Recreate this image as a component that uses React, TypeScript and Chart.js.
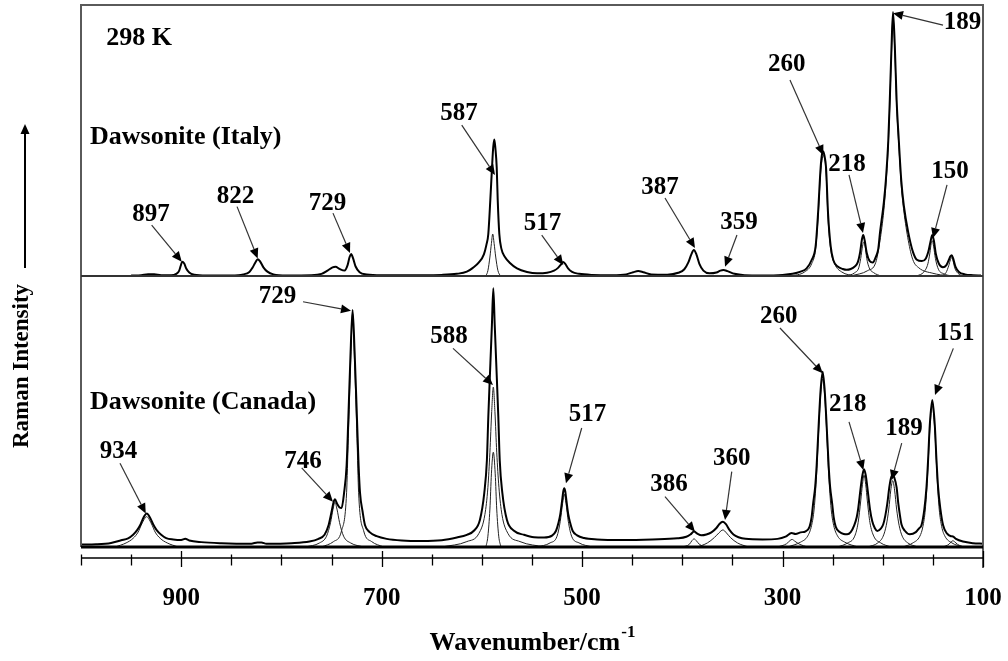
import React, { useEffect, useRef } from 'react';
import { Chart, registerables } from 'chart.js';

Chart.register(...registerables);

type Pt = [number, number];
type Note = { text: string; label: Pt; tail: Pt; tip: Pt };
type Caption = { text: string; at: Pt; align: CanvasTextAlign; size: number };

const FONT = "'Liberation Serif', 'Times New Roman', 'DejaVu Serif', serif";

// ---- axis ticks ----
const xTickValues = [1000, 950, 900, 850, 800, 750, 700, 650, 600, 550, 500, 450, 400, 350, 300, 250, 200, 150, 100];
const xTickLabels = [900, 700, 500, 300, 100];

// ---- Dawsonite (Italy), measured spectrum ----
const italySpectrum: Pt[] = [
  [950, 0.2], [940, 0.3], [933, 0.6], [927, 0.6], [920, 0.3], [910, 0.3], [905, 0.8], [902, 2], [900.5, 3.8], [899, 5.3],
  [897, 4.6], [895, 2.8], [892, 1.3], [887, 0.5], [875, 0.2], [850, 0.2], [838, 0.6], [832, 1.5], [829, 3], [826, 5],
  [823.7, 6.2], [821.5, 5.5], [818, 3.2], [814, 1.6], [808, 0.6], [795, 0.2], [770, 0.3], [760, 0.8], [754, 2], [749, 3.2],
  [746, 3.4], [742, 2.6], [737, 2.0], [734, 4], [732, 7], [730.5, 8.1], [728.5, 6.5], [726, 3.5], [722, 1.4], [715, 0.6],
  [700, 0.3], [660, 0.3], [640, 0.4], [625, 0.8], [615, 1.6], [609, 3], [603, 5], [598, 8], [595.5, 11.5], [593.6, 15.5],
  [591.6, 28], [589.9, 40], [588.7, 47.5], [587.6, 50.4], [586.5, 47], [585.2, 40], [584.2, 28], [582.6, 15.5], [580.5, 10], [577, 7],
  [572, 4.8], [565, 2.8], [555, 1.5], [545, 1.0], [535, 1.2], [528, 2], [524, 3], [521, 4.3], [519, 5.2], [517, 4.6],
  [514, 2.8], [510, 1.5], [503, 0.8], [490, 0.4], [470, 0.3], [456, 0.6], [449, 1.4], [444, 1.8], [439, 1.4], [431, 0.6],
  [415, 0.5], [404, 1.2], [398, 2.5], [394, 5], [391, 8], [388.5, 9.6], [386, 8], [383, 4.5], [379, 2], [373, 1.0],
  [366, 1.3], [362, 2], [359, 2.2], [355, 1.8], [348, 0.8], [338, 0.3], [320, 0.2], [300, 0.4], [290, 0.8], [282, 1.6],
  [276, 2.8], [271, 5.9], [267, 11], [264.6, 23], [262, 40], [260.6, 45], [259.3, 45.9], [258, 44], [256.6, 40], [254.6, 23],
  [252, 11], [249.4, 5.9], [245, 3.5], [240, 2.6], [236, 2.3], [232, 2.6], [228, 3.5], [225, 5], [222.5, 9], [220.8, 13.5],
  [219.5, 15.1], [218, 13], [216, 8.5], [213, 5.5], [210, 5], [207, 7], [204.5, 10], [202.8, 15.9], [199, 27], [197, 35],
  [194.5, 50], [193, 65], [191.5, 82], [189.8, 97.4], [188, 85], [186.2, 65], [184, 50], [181.5, 35], [179, 26], [174.5, 15.9],
  [170, 9], [166, 6], [161, 5.5], [157, 6.5], [154.5, 9], [152.5, 12.5], [150.6, 15.1], [149, 13], [147, 8], [144, 4.5],
  [140, 3.2], [136.5, 4], [134, 6], [132.5, 7.3], [131.2, 7.7], [129.8, 6.5], [127.5, 3.5], [124, 1.5], [118, 0.6], [110, 0.3],
  [102, 0.2],
];

// ---- Dawsonite (Italy), fitted component bands ----
const italyBand589: Pt[] = [[596, 0], [594, 2], [592, 7], [590.5, 12], [589.2, 15.5], [587.8, 12], [586.2, 7], [584, 2], [581.5, 0]];
const italyBand260: Pt[] = [[292, 0], [278, 1.5], [271, 4.5], [267, 10], [264.6, 21], [262, 38], [259.3, 44.5], [256.6, 38], [254.6, 21], [252, 10], [248, 4.5], [241, 1.5], [228, 0]];
const italyBand218: Pt[] = [[236, 0], [228, 1.2], [224, 3], [222, 6.5], [220.2, 11], [219, 12.5], [217.6, 11], [216, 6.5], [213.5, 3], [209, 1.2], [202, 0]];
const italyBand189: Pt[] = [[232, 0], [215, 2], [207, 5], [202.8, 13], [199, 24], [197, 33], [194.5, 48], [193, 63], [191.5, 80], [189.8, 95.5], [188, 83], [186.2, 63], [184, 48], [181.5, 33], [179, 24], [174.5, 13], [170, 6], [164, 3], [150, 1], [135, 0]];
const italyBand150: Pt[] = [[166, 0], [159, 1.5], [155, 4.5], [153, 8.5], [151.7, 12], [150.6, 13], [149.3, 11], [147.5, 6.5], [144.5, 2.5], [139, 0.8], [132, 0]];
const italyBand131: Pt[] = [[143, 0], [137, 1.2], [134.2, 3.8], [132.5, 6], [131.2, 6.8], [130, 5.8], [128.2, 3], [125, 1], [120, 0]];

// ---- Dawsonite (Canada), measured spectrum ----
const canadaSpectrum: Pt[] = [
  [1000, 0.9], [985, 1.0], [970, 1.5], [960, 2.5], [953, 3.2], [948, 4.5], [944, 6.2], [941, 8], [938.5, 10.2], [936.5, 11.6],
  [934.4, 12.4], [932.3, 11.6], [930.3, 10.2], [927.5, 8], [924.5, 6.2], [920, 4.5], [915, 3.3], [908, 2.8], [900, 2.6], [896, 3.0],
  [892, 2.4], [880, 1.8], [860, 1.4], [830, 1.2], [824, 1.7], [820, 1.7], [815, 1.2], [790, 1.4], [772, 2], [763, 3],
  [757, 4.5], [753, 8], [750, 13], [748, 16.5], [746.6, 17.6], [744.5, 16], [742, 14.6], [740, 14.4], [737.5, 20], [735, 30],
  [733.3, 47], [731, 72], [729, 87.5], [727, 72], [724.6, 47], [723, 30], [721.6, 20], [719, 13], [716.6, 8], [712, 5.5],
  [705, 4], [695, 3], [680, 2.4], [660, 2.2], [640, 2.5], [625, 3.5], [615, 4.5], [608, 6], [602, 10], [597.6, 20],
  [595, 32], [593.6, 48], [591.5, 68], [590, 82], [588.6, 95.5], [587.2, 82], [585.7, 68], [583.6, 48], [582.2, 32], [579.6, 20],
  [575, 10], [568, 6], [558, 4.5], [548, 3.6], [538, 3.5], [530, 4.2], [526, 6], [523.5, 9], [521.8, 12], [520, 17],
  [518.8, 20.5], [517.8, 21.7], [516.8, 20.5], [515.6, 17], [513.8, 12], [512, 9], [509.5, 6], [505, 4.3], [498, 3.3], [485, 2.8],
  [460, 2.6], [430, 2.8], [405, 3.2], [396, 3.8], [392, 4.6], [388.3, 5.7], [385, 4.9], [381, 4.3], [376, 4.6], [371, 5.4],
  [366, 7], [363, 8.5], [359.5, 9.3], [356.5, 8.4], [353, 6.3], [349, 4.6], [344, 3.6], [337, 3.0], [320, 2.8], [305, 3.0],
  [297, 3.8], [291, 5.2], [287, 4.8], [282, 5.4], [277, 5.8], [273, 7.5], [271, 11], [269.5, 16], [267.5, 22], [266, 30],
  [263.7, 47], [262, 58], [260, 64.7], [258, 58], [256.3, 47], [254, 30], [252.5, 22], [250.5, 16], [249, 11], [247, 7.5],
  [243, 5.5], [239, 4.8], [235.5, 4.7], [232, 5.5], [228.5, 8], [226, 11], [224.6, 14], [222, 22], [220.3, 26.5], [218.7, 28.7],
  [217, 26.5], [215.4, 22], [212.8, 14], [210.5, 9.5], [208, 7], [205.5, 5.9], [202, 6.8], [199.6, 8.3], [197.5, 11.5], [195.5, 16],
  [193.5, 22], [191.8, 25.5], [190.1, 26.6], [188.4, 25.5], [186.2, 22], [184.5, 16], [182.8, 11.5], [181.3, 8.3], [178, 6], [173, 4.7],
  [167, 5.5], [163.5, 7], [161.4, 8], [158.5, 14], [156.4, 22], [154.8, 32], [153.1, 45], [150.6, 54.2], [148.1, 45], [146.4, 32],
  [144.8, 22], [142.5, 14], [139.8, 8], [136, 5], [132, 4], [130, 3.9], [127, 3.0], [120, 2.0], [110, 1.4], [100, 1.2],
];

// ---- Dawsonite (Canada), fitted component bands ----
const canadaBand934: Pt[] = [[966, 0], [955, 1.5], [948, 3.2], [943, 5.5], [940, 8], [937, 10.2], [934.4, 11.2], [932, 10.2], [929, 8], [926, 5.5], [921, 3.2], [914, 1.5], [903, 0]];
const canadaBand746: Pt[] = [[776, 0], [762, 1.5], [755, 4], [751, 9], [748.5, 14], [746.6, 16.5], [744.6, 14], [742, 9], [738, 4], [731, 1.5], [718, 0]];
const canadaBand729: Pt[] = [[760, 0], [748, 2], [740, 6], [735, 20], [733.3, 40], [731, 68], [729, 86], [727, 68], [724.6, 40], [723, 20], [718, 6], [710, 2], [698, 0]];
const canadaBand588: Pt[] = [[640, 0], [615, 2], [603, 5], [597, 12], [594, 22], [592, 35], [590.2, 50], [588.6, 59], [587, 50], [585.2, 35], [583, 22], [580, 12], [574, 5], [562, 2], [537, 0]];
const canadaBand588n: Pt[] = [[596, 0], [594, 4], [592, 14], [590.5, 27], [588.6, 35], [586.7, 27], [585.2, 14], [583.2, 4], [581, 0]];
const canadaBand517: Pt[] = [[545, 0], [532, 1.5], [525, 4], [521.8, 9.5], [519.5, 16], [517.8, 19.5], [516, 16], [513.8, 9.5], [510.5, 4], [503, 1.5], [490, 0]];
const canadaBand386: Pt[] = [[400, 0], [393, 1], [390.5, 2.3], [388.3, 3], [386, 2.3], [383, 1], [376, 0]];
const canadaBand360: Pt[] = [[385, 0], [375, 1.5], [368, 3.5], [363.5, 5.2], [359.5, 6.3], [356, 5.2], [352, 3.5], [345, 1.5], [334, 0]];
const canadaBand290: Pt[] = [[305, 0], [296, 1.2], [292.5, 2.4], [290.5, 2.8], [288, 2.2], [283, 1], [275, 0]];
const canadaBand260: Pt[] = [[295, 0], [282, 1.8], [275, 4], [271, 8], [268.5, 14], [266, 27], [263.7, 45], [262, 56], [260, 62], [258, 56], [256.3, 45], [254, 27], [251.5, 14], [249, 8], [245, 4], [238, 1.8], [225, 0]];
const canadaBand218: Pt[] = [[245, 0], [235, 1.5], [228, 4], [224.6, 9], [222, 17], [220.3, 23], [218.7, 26.5], [217, 23], [215.4, 17], [212.8, 9], [209, 4], [202, 1.5], [192, 0]];
const canadaBand189: Pt[] = [[215, 0], [205, 1.5], [199.6, 4], [196.5, 8], [194, 14], [192, 21], [190.1, 24.5], [188.2, 21], [186.2, 14], [183.7, 8], [180.6, 4], [175, 1.5], [165, 0]];
const canadaBand151: Pt[] = [[180, 0], [170, 1.5], [163, 4], [160, 7.5], [157.5, 14], [155.5, 25], [153.1, 43], [150.6, 52], [148.1, 43], [145.7, 25], [143.7, 14], [141.2, 7.5], [138, 4], [131, 1.5], [120, 0]];
const canadaBand130: Pt[] = [[140, 0], [134, 1], [131.5, 2], [130, 2.3], [128.5, 2], [125.5, 1], [119, 0]];

// ---- peak labels (wavenumber, intensity of the panel) ----
const italyNotes: Note[] = [
  { text: '897', label: [930.2, 22.5], tail: [929.5, 18.8], tip: [899.5, 5.3] },
  { text: '822', label: [845.8, 29.5], tail: [844.3, 25.6], tip: [823.7, 6.5] },
  { text: '729', label: [754.0, 26.9], tail: [748.6, 23.2], tip: [731.6, 8.5] },
  { text: '587', label: [622.8, 60.1], tail: [620.1, 55.7], tip: [586.9, 37.3] },
  { text: '517', label: [539.5, 19.2], tail: [540.3, 15.1], tip: [518.8, 4.1] },
  { text: '387', label: [422.3, 32.5], tail: [417.3, 28.8], tip: [387.4, 10.3] },
  { text: '359', label: [343.5, 19.9], tail: [345.5, 15.1], tip: [357.4, 3.4] },
  { text: '260', label: [295.9, 77.9], tail: [292.6, 72.3], tip: [259.3, 44.6] },
  { text: '218', label: [235.7, 41.3], tail: [233.7, 37.3], tip: [219.7, 15.9] },
  { text: '189', label: [120.5, 93.4], tail: [139.9, 92.6], tip: [189.8, 97.0] },
  { text: '150', label: [132.9, 38.7], tail: [135.9, 33.6], tip: [149.9, 14.0] },
];
const canadaNotes: Note[] = [
  { text: '729', label: [803.9, 92.3], tail: [778.5, 90.5], tip: [730.6, 87.2] },
  { text: '934', label: [962.6, 35.2], tail: [961.1, 30.9], tip: [935.4, 12.4] },
  { text: '746', label: [778.5, 31.5], tail: [779.8, 29.2], tip: [748.6, 16.7] },
  { text: '588', label: [632.8, 77.6], tail: [628.8, 73.3], tip: [588.9, 59.8] },
  { text: '517', label: [494.6, 48.7], tail: [500.4, 43.9], tip: [516.1, 23.5] },
  { text: '386', label: [413.3, 22.9], tail: [417.3, 18.6], tip: [387.4, 5.6] },
  { text: '360', label: [350.7, 32.8], tail: [350.7, 27.8], tip: [357.4, 10.0] },
  { text: '260', label: [303.8, 85.0], tail: [302.6, 80.8], tip: [259.9, 64.1] },
  { text: '218', label: [235.0, 52.4], tail: [233.7, 46.2], tip: [219.4, 28.4] },
  { text: '189', label: [178.8, 43.8], tail: [181.1, 38.3], tip: [191.1, 24.7] },
  { text: '151', label: [127.1, 78.9], tail: [129.6, 73.3], tip: [147.9, 56.1] },
];

const italyCaptions: Caption[] = [
  { text: '298 K', at: [942.1, 87.8], align: 'center', size: 26 },
  { text: 'Dawsonite (Italy)', at: [991, 51.1], align: 'left', size: 26 },
];
const canadaCaptions: Caption[] = [
  { text: 'Dawsonite (Canada)', at: [991, 53.5], align: 'left', size: 26 },
];

const toXY = (pts: Pt[]) => pts.map(([x, y]) => ({ x, y }));

const line = (pts: Pt[], axis: string, width: number, color: string) => ({
  data: toXY(pts),
  yAxisID: axis,
  borderColor: color,
  borderWidth: width,
  pointRadius: 0,
  fill: false,
  cubicInterpolationMode: 'monotone' as const,
});

function drawArrow(ctx: CanvasRenderingContext2D, x1: number, y1: number, x2: number, y2: number) {
  const ang = Math.atan2(y2 - y1, x2 - x1);
  const len = 10;
  const half = 4.5;
  const bx = x2 - len * Math.cos(ang);
  const by = y2 - len * Math.sin(ang);
  ctx.beginPath();
  ctx.moveTo(x1, y1);
  ctx.lineTo(bx, by);
  ctx.stroke();
  ctx.beginPath();
  ctx.moveTo(x2, y2);
  ctx.lineTo(bx + half * Math.sin(ang), by - half * Math.cos(ang));
  ctx.lineTo(bx - half * Math.sin(ang), by + half * Math.cos(ang));
  ctx.closePath();
  ctx.fill();
}

const panelPlugin = {
  id: 'panelDecor',
  afterDraw(chart: any) {
    const { ctx, chartArea: a, scales } = chart;
    const xs = scales.x;
    const yT = scales.yTop;
    const yB = scales.yBot;
    const axisY = a.bottom + 11;
    ctx.save();

    // frame
    ctx.strokeStyle = '#5a5a5a';
    ctx.lineWidth = 2;
    ctx.beginPath();
    ctx.moveTo(a.left, a.bottom);
    ctx.lineTo(a.left, a.top);
    ctx.lineTo(a.right, a.top);
    ctx.lineTo(a.right, axisY + 10);
    ctx.stroke();
    // panel divider
    const mid = yT.getPixelForValue(0);
    ctx.strokeStyle = '#333';
    ctx.lineWidth = 2;
    ctx.beginPath();
    ctx.moveTo(a.left, mid);
    ctx.lineTo(a.right, mid);
    ctx.stroke();
    // bottom baseline
    ctx.strokeStyle = '#000';
    ctx.lineWidth = 3;
    ctx.beginPath();
    ctx.moveTo(a.left, a.bottom);
    ctx.lineTo(a.right, a.bottom);
    ctx.stroke();

    // axis line + ticks
    ctx.lineWidth = 1.3;
    ctx.beginPath();
    ctx.moveTo(a.left, axisY);
    ctx.lineTo(a.right, axisY);
    for (const v of xTickValues) {
      const px = Math.round(xs.getPixelForValue(v)) + 0.5;
      const major = xTickLabels.includes(v);
      ctx.moveTo(px, axisY - (major ? 7 : 3.5));
      ctx.lineTo(px, axisY + (major ? 9 : 7.5));
    }
    ctx.stroke();

    // peak labels
    ctx.fillStyle = '#000';
    ctx.textBaseline = 'middle';
    const notes = (list: Note[], ys: any) => {
      for (const n of list) {
        ctx.strokeStyle = '#333';
        ctx.lineWidth = 1.2;
        drawArrow(ctx, xs.getPixelForValue(n.tail[0]), ys.getPixelForValue(n.tail[1]), xs.getPixelForValue(n.tip[0]), ys.getPixelForValue(n.tip[1]));
        ctx.font = `bold 25px ${FONT}`;
        ctx.textAlign = 'center';
        ctx.fillText(n.text, xs.getPixelForValue(n.label[0]), ys.getPixelForValue(n.label[1]));
      }
    };
    notes(italyNotes, yT);
    notes(canadaNotes, yB);

    const caps = (list: Caption[], ys: any) => {
      for (const c of list) {
        ctx.font = `bold ${c.size}px ${FONT}`;
        ctx.textAlign = c.align;
        ctx.fillText(c.text, xs.getPixelForValue(c.at[0]), ys.getPixelForValue(c.at[1]));
      }
    };
    caps(italyCaptions, yT);
    caps(canadaCaptions, yB);

    // y axis label with arrow
    ctx.save();
    ctx.translate(a.left - 59, 366);
    ctx.rotate(-Math.PI / 2);
    ctx.font = `bold 23px ${FONT}`;
    ctx.textAlign = 'center';
    ctx.textBaseline = 'middle';
    ctx.fillText('Raman Intensity', 0, 0);
    ctx.restore();
    ctx.strokeStyle = '#000';
    ctx.lineWidth = 2;
    drawArrow(ctx, a.left - 56, 268, a.left - 56, 124);

    // x axis title with superscript
    const main = 'Wavenumber/cm';
    const sup = '-1';
    ctx.font = `bold 26px ${FONT}`;
    const w1 = ctx.measureText(main).width;
    ctx.font = `bold 17px ${FONT}`;
    const w2 = ctx.measureText(sup).width;
    const cx = (a.left + a.right) / 2;
    const sx = cx - (w1 + w2) / 2;
    ctx.textAlign = 'left';
    ctx.textBaseline = 'alphabetic';
    ctx.font = `bold 26px ${FONT}`;
    ctx.fillText(main, sx, 650);
    ctx.font = `bold 17px ${FONT}`;
    ctx.fillText(sup, sx + w1 + 1, 637);

    ctx.restore();
  },
};

export default function App() {
  const ref = useRef<HTMLCanvasElement>(null);
  useEffect(() => {
    const canvas = ref.current;
    if (!canvas) return;
    const chart = new Chart(canvas, {
      type: 'line',
      data: {
        datasets: [
          line(italySpectrum, 'yTop', 2, '#000'),
          line(canadaSpectrum, 'yBot', 2, '#000'),
          line(italyBand589, 'yTop', 1, '#222'),
          line(italyBand260, 'yTop', 1, '#222'),
          line(italyBand218, 'yTop', 1, '#222'),
          line(italyBand189, 'yTop', 1, '#222'),
          line(italyBand150, 'yTop', 1, '#222'),
          line(italyBand131, 'yTop', 1, '#222'),
          line(canadaBand934, 'yBot', 1, '#222'),
          line(canadaBand746, 'yBot', 1, '#222'),
          line(canadaBand729, 'yBot', 1, '#222'),
          line(canadaBand588, 'yBot', 1, '#222'),
          line(canadaBand588n, 'yBot', 1, '#222'),
          line(canadaBand517, 'yBot', 1, '#222'),
          line(canadaBand386, 'yBot', 1, '#222'),
          line(canadaBand360, 'yBot', 1, '#222'),
          line(canadaBand290, 'yBot', 1, '#222'),
          line(canadaBand260, 'yBot', 1, '#222'),
          line(canadaBand218, 'yBot', 1, '#222'),
          line(canadaBand189, 'yBot', 1, '#222'),
          line(canadaBand151, 'yBot', 1, '#222'),
          line(canadaBand130, 'yBot', 1, '#222'),
        ] as any,
      },
      options: {
        responsive: false,
        animation: false,
        events: [],
        layout: { padding: { left: 81, right: 25, top: 5, bottom: 45 } },
        plugins: { legend: { display: false }, tooltip: { enabled: false } },
        scales: {
          x: {
            type: 'linear',
            min: 100,
            max: 1000,
            reverse: true,
            grid: { display: false, drawTicks: true, tickLength: 35 },
            border: { display: false },
            afterBuildTicks: (scale: any) => {
              scale.ticks = xTickValues.map((v) => ({ value: v }));
            },
            ticks: {
              autoSkip: false,
              maxRotation: 0,
              minRotation: 0,
              padding: 2,
              color: '#000',
              font: { family: FONT, size: 25, weight: 'bold' },
              callback: (v: any) => (xTickLabels.includes(Number(v)) ? String(v) : ''),
            },
          },
          yTop: { type: 'linear', display: false, min: -100, max: 100 },
          yBot: { type: 'linear', display: false, min: 0, max: 200 },
        },
      } as any,
      plugins: [panelPlugin],
    });
    return () => chart.destroy();
  }, []);
  return (
    <div style={{ position: 'absolute', left: 0, top: 0, width: 1008, height: 661, background: '#fff' }}>
      <canvas ref={ref} width={1008} height={661} style={{ display: 'block', width: 1008, height: 661 }} />
    </div>
  );
}
